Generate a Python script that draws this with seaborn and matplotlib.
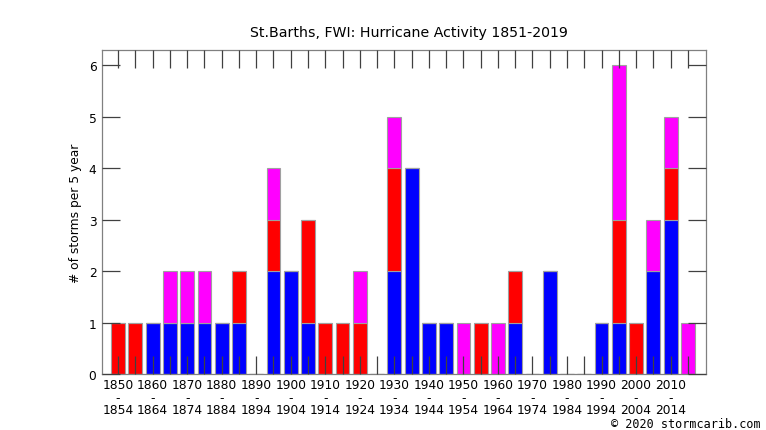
import numpy as np
import matplotlib
matplotlib.use("Agg")
import matplotlib.pyplot as plt
import seaborn as sns

# 5-year bins 1850-2019
bin_starts = list(range(1850, 2020, 5))
blue = [0, 0, 1, 1, 1, 1, 1, 1, 0, 2, 2, 1, 0, 0, 0, 0, 2, 4, 1, 1, 0, 0, 0, 1, 0, 2, 0, 0, 1, 1, 0, 2, 3, 0]
red = [1, 1, 0, 0, 0, 0, 0, 1, 0, 1, 0, 2, 1, 1, 1, 0, 2, 0, 0, 0, 0, 1, 0, 1, 0, 0, 0, 0, 0, 2, 1, 0, 1, 0]
magenta = [0, 0, 0, 1, 1, 1, 0, 0, 0, 1, 0, 0, 0, 0, 1, 0, 1, 0, 0, 0, 1, 0, 1, 0, 0, 0, 0, 0, 0, 3, 0, 1, 1, 1]

labels = [f"{b}\n-\n{b + 4}" if i % 2 == 0 else "" for i, b in enumerate(bin_starts)]
cats = [str(b) for b in bin_starts]

sns.set_style("white")
plt.rcParams['font.family'] = ['DejaVu Sans']
plt.rcParams['text.color'] = 'black'
plt.rcParams['xtick.labelcolor'] = 'black'
plt.rcParams['ytick.labelcolor'] = 'black'
plt.rcParams['axes.labelcolor'] = 'black'

fig = plt.figure(figsize=(7.66, 4.31), dpi=100)
ax = fig.add_axes([0.1332, 0.1299, 0.7885, 0.7518])

blue = np.array(blue)
red = np.array(red)
magenta = np.array(magenta)

edge = dict(edgecolor="#a0a0a0", linewidth=0.8, width=0.8)
sns.barplot(x=cats, y=blue, color="#0000ff", saturation=1, ax=ax, **edge)
sns.barplot(x=cats, y=red, bottom=blue, color="#ff0000", saturation=1, ax=ax, **edge)
sns.barplot(x=cats, y=magenta, bottom=blue + red, color="#ff00ff", saturation=1, ax=ax, **edge)

ax.set_axisbelow(False)
ax.set_xlim(-0.93, 34.05)
ax.set_ylim(0, 6.3)
ax.set_xticks(range(len(cats)))
ax.set_xticklabels(labels, fontsize=8.8, linespacing=0.95)
ax.set_yticks(range(0, 7))
ax.set_yticklabels([str(i) for i in range(0, 7)], fontsize=8.8)

ax.tick_params(axis="both", direction="in", length=13, width=0.9, color="#404040",
               top=True, right=True, bottom=True, left=True,
               labeltop=False, labelright=False)
ax.tick_params(axis="x", pad=3)
ax.tick_params(axis="y", pad=4)

for s in ax.spines.values():
    s.set_visible(True)
    s.set_color("#808080")
    s.set_linewidth(0.9)

ax.set_xlabel("")
ax.set_ylabel("# of storms per 5 year", fontsize=8.8, labelpad=5)
fig.text(0.5333, 0.923, "St.Barths, FWI: Hurricane Activity 1851-2019", ha="center", va="center", fontsize=10.2)
fig.text(0.993, 0.0, "\u00a9 2020 stormcarib.com", ha="right", va="bottom",
         fontsize=8.5, family=["DejaVu Sans Mono"])

fig.savefig("out.png", dpi=100)
